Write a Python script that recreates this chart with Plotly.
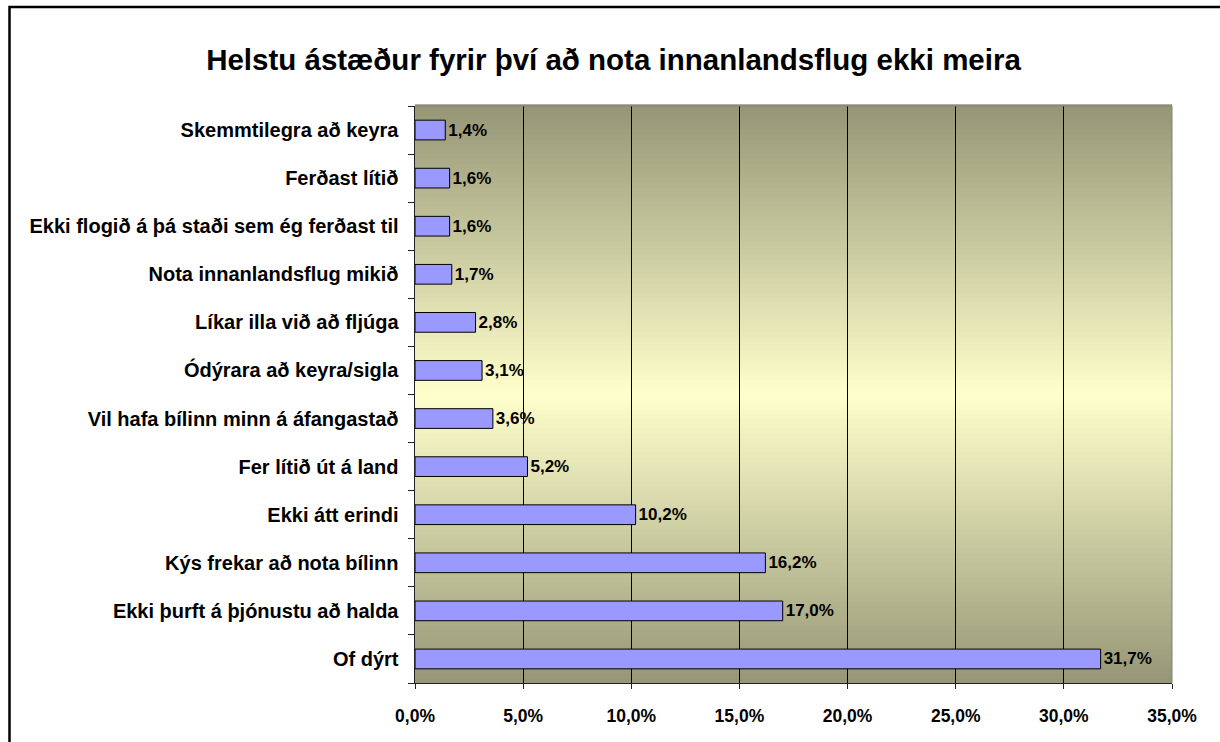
import plotly.graph_objects as go

# Data (bottom to top)
categories = [
    "Of dýrt",
    "Ekki þurft á þjónustu að halda",
    "Kýs frekar að nota bílinn",
    "Ekki átt erindi",
    "Fer lítið út á land",
    "Vil hafa bílinn minn á áfangastað",
    "Ódýrara að keyra/sigla",
    "Líkar illa við að fljúga",
    "Nota innanlandsflug mikið",
    "Ekki flogið á þá staði sem ég ferðast til",
    "Ferðast lítið",
    "Skemmtilegra að keyra",
]
values = [0.317, 0.170, 0.162, 0.102, 0.052, 0.036, 0.031, 0.028, 0.017, 0.016, 0.016, 0.014]
x_ticks = [0.0, 0.05, 0.10, 0.15, 0.20, 0.25, 0.30, 0.35]

FONT = "Arial, Liberation Sans, sans-serif"
W, H = 1220, 742
ML, MR, MT, MB = 415, 48, 106, 59
PW, PH = W - ML - MR, H - MT - MB

fig = go.Figure(go.Bar(
    x=values, y=categories, orientation="h",
    marker=dict(color="#9999FF", line=dict(color="black", width=1)),
    width=0.41,
    texttemplate="%{x:.1%}", textposition="outside", cliponaxis=False,
    textfont=dict(family=FONT, size=17, color="black", weight="bold"),
    hoverinfo="skip",
))

# vertical gradient background for plot area
edge = (150, 150, 118)
mid = (255, 255, 204)
shapes = []
N = 120
for i in range(N):
    t = (i + 0.5) / N
    d = abs(t - 0.5) * 2
    c = tuple(round(mid[k] + (edge[k] - mid[k]) * d) for k in range(3))
    shapes.append(dict(type="rect", xref="x domain", yref="y domain",
                       x0=0, x1=1, y0=i / N, y1=(i + 1) / N + 0.003,
                       fillcolor="rgb(%d,%d,%d)" % c, line=dict(width=0),
                       layer="below"))
# gray top / right border of plot area
shapes.append(dict(type="line", xref="x domain", yref="y domain", x0=0, x1=1, y0=1, y1=1,
                   line=dict(color="#808080", width=1)))
shapes.append(dict(type="line", xref="x domain", yref="y domain", x0=1, x1=1, y0=0, y1=1,
                   line=dict(color="#808080", width=1)))
# outer chart frame (left & top edges visible)
fx0 = (9.5 - ML) / PW
fy1 = 1 + (MT - 7) / PH
shapes.append(dict(type="rect", xref="paper", yref="paper",
                   x0=fx0, x1=1 + (W + 20 - ML - PW) / PW, y0=-0.3, y1=fy1,
                   line=dict(color="black", width=2.5), fillcolor="rgba(0,0,0,0)"))

fig.update_layout(
    width=W, height=H,
    margin=dict(l=ML, r=MR, t=MT, b=MB),
    paper_bgcolor="white", plot_bgcolor="rgba(0,0,0,0)",
    separators=",.",
    showlegend=False,
    shapes=shapes,
    title=dict(text="Helstu ástæður fyrir því að nota innanlandsflug ekki meira",
               x=613.5 / W, xref="container", xanchor="center",
               y=1 - 60 / H, yref="container", yanchor="middle",
               font=dict(family=FONT, size=29.5, color="black", weight="bold")),
    xaxis=dict(range=[0, 0.35], tickvals=x_ticks, tickformat=".1%",
               showgrid=True, gridcolor="black", gridwidth=1, zeroline=False,
               showline=True, linecolor="#222", linewidth=1,
               ticks="outside", ticklen=5, tickcolor="#222",
               tickfont=dict(family=FONT, size=17.5, color="black", weight="bold"),
               ticklabelstandoff=12, fixedrange=True),
    yaxis=dict(categoryorder="array", categoryarray=categories,
               showgrid=False, zeroline=False,
               showline=True, linecolor="#222", linewidth=1.5,
               ticks="outside", ticklen=6, tickcolor="#222", tickson="boundaries",
               tickfont=dict(family=FONT, size=20, color="black", weight="bold"),
               ticklabelstandoff=11, fixedrange=True),
)

fig.write_html("out.html", config={"displayModeBar": False, "staticPlot": True},
               post_script="document.body.style.margin='0';document.body.style.overflow='hidden';")
